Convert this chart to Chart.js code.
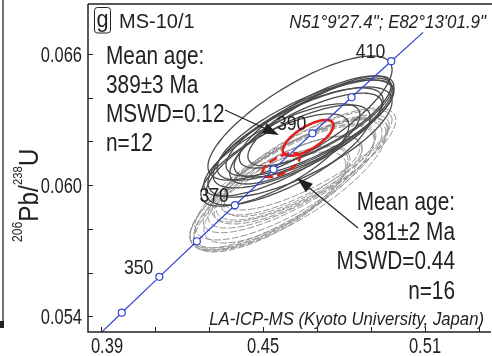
<!DOCTYPE html>
<html>
<head>
<meta charset="utf-8">
<script src="https://cdn.jsdelivr.net/npm/chart.js@4.4.0/dist/chart.umd.min.js"></script>
<style>
  html, body { margin: 0; padding: 0; background: #fff; }
  #wrap { width: 492px; height: 356px; }
</style>
</head>
<body>
<div id="wrap"><canvas id="concordia" width="492" height="356"></canvas></div>
<script>
// Concordia curve: 207Pb/235U (x) vs 206Pb/238U (y), ages in Ma
const concAge = [330, 340, 350, 360, 370, 380, 390, 400, 410, 418];
const concX = [0.3840, 0.3977, 0.4116, 0.4255, 0.4396, 0.4539, 0.4683, 0.4828, 0.4975, 0.5093];
const concY = [0.05252, 0.05416, 0.05580, 0.05743, 0.05908, 0.06072, 0.06237, 0.06402, 0.06567, 0.06699];
const markedAges = [340, 350, 360, 370, 380, 390, 400, 410];
const labelAges = [350, 370, 390, 410];

// axis ticks
const xTicks = [0.39, 0.41, 0.43, 0.45, 0.47, 0.49, 0.51, 0.53];
const xTickLabels = ['0.39', '', '', '0.45', '', '', '0.51', ''];
const yTicks = [0.054, 0.056, 0.058, 0.060, 0.062, 0.064, 0.066];
const yTickLabels = ['0.054', '', '', '0.060', '', '', '0.066'];

// solid error ellipses (389 Ma group, n=12): centre, 2s half widths, rho
const oldX   = [0.4637, 0.4656, 0.4630, 0.4674, 0.4637, 0.4570, 0.4693, 0.4667, 0.4593, 0.4711, 0.4544, 0.4681];
const oldY   = [0.06307, 0.06252, 0.06216, 0.06261, 0.06197, 0.06161, 0.06289, 0.06229, 0.06138, 0.06289, 0.06115, 0.06252];
const oldSX  = [0.0341, 0.0326, 0.0315, 0.0311, 0.0341, 0.0289, 0.0281, 0.0274, 0.0304, 0.0267, 0.0274, 0.0304];
const oldSY  = [0.00284, 0.00229, 0.00229, 0.00220, 0.00252, 0.00211, 0.00211, 0.00192, 0.00229, 0.00201, 0.00211, 0.00247];
const oldRho = [0.78, 0.76, 0.75, 0.77, 0.74, 0.76, 0.78, 0.74, 0.75, 0.78, 0.74, 0.80];

// dashed error ellipses (381 Ma group, n=16)
const youngX   = [0.4593, 0.4581, 0.4619, 0.4556, 0.4637, 0.4533, 0.4656, 0.4593, 0.4570, 0.4622, 0.4526, 0.4667, 0.4585, 0.4607, 0.4548, 0.4644];
const youngY   = [0.06000, 0.06014, 0.06047, 0.05968, 0.06069, 0.05941, 0.06092, 0.06023, 0.05987, 0.06060, 0.05923, 0.06115, 0.06005, 0.06040, 0.05955, 0.06078];
const youngSX  = [0.0363, 0.0333, 0.0341, 0.0311, 0.0326, 0.0289, 0.0311, 0.0274, 0.0341, 0.0296, 0.0281, 0.0311, 0.0356, 0.0252, 0.0267, 0.0348];
const youngSY  = [0.00302, 0.00265, 0.00265, 0.00256, 0.00238, 0.00238, 0.00229, 0.00201, 0.00284, 0.00220, 0.00229, 0.00229, 0.00293, 0.00183, 0.00220, 0.00275];
const youngRho = [0.78, 0.76, 0.80, 0.76, 0.78, 0.74, 0.80, 0.74, 0.78, 0.76, 0.74, 0.80, 0.80, 0.74, 0.72, 0.80];

// mean (concordia age) ellipses: [389 Ma solid, 381 Ma dashed]
const meanX   = [0.4667, 0.4567];
const meanY   = [0.06216, 0.06092];
const meanSX  = [0.0094, 0.0070];
const meanSY  = [0.00082, 0.00055];
const meanRho = [0.70, 0.65];

const blue = '#3446d4';
const ink = '#222';
const FONT = "'Liberation Sans', Arial, sans-serif";

function drawEllipse(ctx, xs, ys, cx, cy, sx, sy, rho) {
    const k = Math.sqrt(1 - rho * rho);
    ctx.beginPath();
    for (let i = 0; i <= 96; i++) {
        const t = i / 96 * Math.PI * 2;
        const px = xs.getPixelForValue(cx + sx * Math.cos(t));
        const py = ys.getPixelForValue(cy + sy * (rho * Math.cos(t) + k * Math.sin(t)));
        if (i === 0) ctx.moveTo(px, py); else ctx.lineTo(px, py);
    }
    ctx.closePath();
    ctx.stroke();
}

// text squeezed horizontally, like the narrow Helvetica in the figure
function say(ctx, s, x, y, font, sx, align) {
    ctx.save();
    ctx.translate(x, y);
    ctx.scale(sx, 1);
    ctx.font = font;
    ctx.textAlign = align || 'left';
    ctx.textBaseline = 'alphabetic';
    ctx.fillText(s, 0, 0);
    ctx.restore();
}

function arrow(ctx, x1, y1, x2, y2) {
    const ang = Math.atan2(y2 - y1, x2 - x1);
    const len = 16, half = 5.5;
    const bx = x2 - len * Math.cos(ang), by = y2 - len * Math.sin(ang);
    ctx.beginPath();
    ctx.moveTo(x1, y1);
    ctx.lineTo(bx, by);
    ctx.stroke();
    ctx.beginPath();
    ctx.moveTo(x2, y2);
    ctx.lineTo(bx + half * Math.sin(ang), by - half * Math.cos(ang));
    ctx.lineTo(bx - half * Math.sin(ang), by + half * Math.cos(ang));
    ctx.closePath();
    ctx.fill();
}

const decorations = {
    id: 'decorations',
    beforeDatasetsDraw(chart) {
        const {ctx, chartArea: a, scales: {x, y}} = chart;
        ctx.save();
        ctx.beginPath();
        ctx.rect(a.left, a.top, a.right - a.left, a.bottom - a.top);
        ctx.clip();

        ctx.strokeStyle = '#939393';
        ctx.lineWidth = 1;
        ctx.setLineDash([7, 2]);
        youngX.forEach((v, i) => drawEllipse(ctx, x, y, v, youngY[i], youngSX[i], youngSY[i], youngRho[i]));

        ctx.setLineDash([]);
        ctx.strokeStyle = '#4b4b4b';
        ctx.lineWidth = 1.3;
        oldX.forEach((v, i) => drawEllipse(ctx, x, y, v, oldY[i], oldSX[i], oldSY[i], oldRho[i]));

        ctx.strokeStyle = '#e2211c';
        ctx.lineWidth = 2.6;
        drawEllipse(ctx, x, y, meanX[0], meanY[0], meanSX[0], meanSY[0], meanRho[0]);
        ctx.setLineDash([9, 4]);
        drawEllipse(ctx, x, y, meanX[1], meanY[1], meanSX[1], meanSY[1], meanRho[1]);
        ctx.restore();
    },
    afterDatasetsDraw(chart) {
        const {ctx, chartArea: a, scales: {x, y}} = chart;
        ctx.save();
        ctx.fillStyle = ink;
        ctx.strokeStyle = ink;

        // age labels on the concordia
        labelAges.forEach(age => {
            const i = concAge.indexOf(age);
            say(ctx, String(age), x.getPixelForValue(concX[i]) - 6, y.getPixelForValue(concY[i]) - 3,
                '21px ' + FONT, 0.84, 'right');
        });

        // frame
        ctx.lineWidth = 1.5;
        ctx.beginPath();
        ctx.moveTo(a.left, a.top);
        ctx.lineTo(a.left, a.bottom);
        ctx.lineTo(a.right, a.bottom);
        ctx.moveTo(a.left, a.top);
        ctx.lineTo(492, a.top);
        ctx.stroke();

        // inward ticks
        ctx.lineWidth = 1;
        ctx.beginPath();
        xTicks.forEach(v => {
            const px = Math.round(x.getPixelForValue(v)) + 0.5;
            ctx.moveTo(px, a.bottom);
            ctx.lineTo(px, a.bottom - 5);
        });
        yTicks.forEach(v => {
            const py = Math.round(y.getPixelForValue(v)) + 0.5;
            ctx.moveTo(a.left, py);
            ctx.lineTo(a.left + 5, py);
        });
        ctx.stroke();

        xTicks.forEach((v, i) => {
            if (xTickLabels[i]) say(ctx, xTickLabels[i], x.getPixelForValue(v) + (i === 0 ? 6 : 0), 353, '22px ' + FONT, 0.75, 'center');
        });
        yTicks.forEach((v, i) => {
            if (yTickLabels[i]) say(ctx, yTickLabels[i], 82, y.getPixelForValue(v) + 8, '22px ' + FONT, 0.75, 'right');
        });

        // y axis title 206Pb/238U
        ctx.save();
        ctx.translate(38, 242);
        ctx.rotate(-Math.PI / 2);
        ctx.scale(0.87, 1);
        ctx.textBaseline = 'alphabetic';
        let cx = 0;
        const part = (s, size, rise) => {
            ctx.font = size + 'px ' + FONT;
            ctx.fillText(s, cx, -rise);
            cx += ctx.measureText(s).width;
        };
        part('206', 14, 16);
        part('Pb/', 28, 0);
        part('238', 13, 16);
        part('U', 28, 0);
        ctx.restore();

        // panel label
        ctx.lineWidth = 1;
        ctx.beginPath();
        ctx.roundRect(94.5, 7.5, 16, 25.5, 3);
        ctx.stroke();
        say(ctx, 'g', 102.5, 27, '24px ' + FONT, 0.9, 'center');
        say(ctx, 'MS-10/1', 119, 28, '20px ' + FONT, 1, 'left');
        say(ctx, 'N51\u00b09\'27.4"; E82\u00b013\'01.9"', 486, 28, 'italic 18px ' + FONT, 0.94, 'right');
        say(ctx, 'LA-ICP-MS (Kyoto University, Japan)', 484, 325, 'italic 19px ' + FONT, 0.88, 'right');

        // group statistics
        const big = '26px ' + FONT;
        ['Mean age:', '389\u00b13 Ma', 'MSWD=0.12', 'n=12'].forEach((s, i) =>
            say(ctx, s, 106, 64 + i * 29, big, 0.8, 'left'));
        ['Mean age:', '381\u00b12 Ma', 'MSWD=0.44', 'n=16'].forEach((s, i) =>
            say(ctx, s, 455, 210 + i * 29.5, big, 0.8, 'right'));

        ctx.lineWidth = 1.2;
        arrow(ctx, x.getPixelForValue(0.4359), y.getPixelForValue(0.06344), x.getPixelForValue(0.4559), y.getPixelForValue(0.06229));
        arrow(ctx, x.getPixelForValue(0.4852), y.getPixelForValue(0.05804), x.getPixelForValue(0.4626), y.getPixelForValue(0.06033));

        // edge of neighbouring panel
        ctx.lineWidth = 1.5;
        ctx.strokeStyle = '#444';
        ctx.beginPath();
        ctx.moveTo(3, 0);
        ctx.lineTo(3, 327);
        ctx.stroke();
        ctx.fillRect(0, 321, 4, 7);
        ctx.restore();
    }
};

new Chart(document.getElementById('concordia'), {
    type: 'scatter',
    data: {
        datasets: [{
            data: concAge.map((age, i) => ({x: concX[i], y: concY[i]})),
            showLine: true,
            tension: 0,
            borderColor: blue,
            borderWidth: 1.2,
            pointRadius: concAge.map(age => markedAges.includes(age) ? 3.5 : 0),
            pointBackgroundColor: '#fff',
            pointBorderColor: blue,
            pointBorderWidth: 1.2
        }]
    },
    options: {
        responsive: false,
        animation: false,
        events: [],
        layout: {padding: {left: 88, top: 4, right: 1, bottom: 24}},
        plugins: {legend: {display: false}, tooltip: {enabled: false}},
        scales: {
            x: {type: 'linear', display: false, min: 0.385185, max: 0.534444},
            y: {type: 'linear', display: false, min: 0.053277, max: 0.068288}
        }
    },
    plugins: [decorations]
});
</script>
</body>
</html>
